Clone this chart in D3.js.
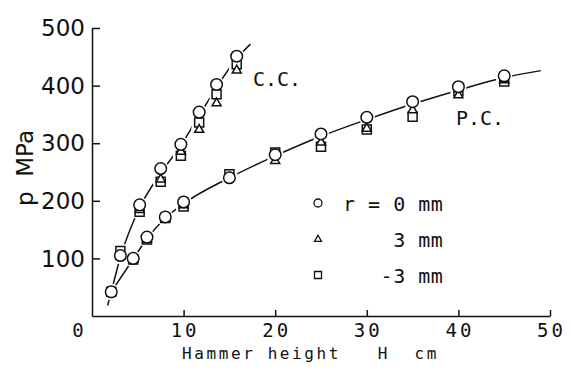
<!DOCTYPE html>
<html>
<head>
<meta charset="utf-8">
<script src="https://cdn.jsdelivr.net/npm/d3@7"></script>
<style>
  html, body { margin: 0; padding: 0; background: #fff; }
  svg { display: block; }
  text { fill: #111; }
</style>
</head>
<body>
<div id="chart"></div>
<script>
// ---------- data ----------
const xTicks = [10, 20, 30, 40, 50];
const yTicks = [100, 200, 300, 400, 500];

// C.C. (steep curve)
const ccH        = [2.1, 3.1, 5.2, 7.5, 9.7, 11.7, 13.6, 15.8];
const ccCircle   = [42, 105, 193, 256, 298, 354, 402, 451];
const ccTriangle = [42, 104, 185, 238, 286, 324, 370, 427];
const ccSquare   = [42, 113, 181, 233, 278, 336, 385, 437];
const ccLineH    = [1.7, 2.1, 3.1, 5.2, 7.5, 9.7, 11.7, 13.6, 15.8, 17.3];
const ccLineP    = [18, 42, 102, 188, 248, 296, 348, 397, 447, 472];

// P.C. (flatter curve)
const pcH        = [4.5, 6, 8, 10, 15, 20, 25, 30, 35, 40, 45];
const pcCircle   = [100, 137, 172, 198, 240, 280, 316, 345, 372, 398, 417];
const pcTriangle = [99, 133, 170, 193, 241, 270, 302, 326, 358, 384, 410];
const pcSquare   = [98, 133, 170, 190, 246, 284, 294, 324, 346, 390, 407];
const pcLineH    = [2.1, 4.5, 6, 8, 10, 15, 20, 25, 30, 35, 40, 45, 49];
const pcLineP    = [42, 99, 134, 170, 195, 240, 278, 312, 341, 368, 392, 414, 426];

const legendLabels = ["r = 0 mm", "    3 mm", "   -3 mm"];
const legendShapes = ["circle", "triangle", "square"];

// ---------- drawing ----------
const W = 583, H = 374;
const svg = d3.select("#chart").append("svg").attr("width", W).attr("height", H);

const x = d3.scaleLinear().domain([0, 50]).range([92, 550]);
const y = d3.scaleLinear().domain([0, 500]).range([316, 28]);

const mono = "'DejaVu Sans Mono', 'Liberation Mono', monospace";
const sans = "'DejaVu Sans', 'Liberation Sans', sans-serif";

// axes
const xAxis = d3.axisBottom(x).tickValues(xTicks).tickSizeInner(-6).tickSizeOuter(0).tickFormat("");
const yAxis = d3.axisLeft(y).tickValues(yTicks).tickSizeInner(-8).tickSizeOuter(0).tickFormat("");
const gx = svg.append("g").attr("transform", `translate(0,${y(0)})`).call(xAxis);
const gy = svg.append("g").attr("transform", `translate(${x(0)},0)`).call(yAxis);
[gx, gy].forEach(g => {
  g.selectAll("path, line").attr("stroke", "#111").attr("stroke-width", 1.5);
});

// tick labels
svg.append("g").selectAll("text").data(xTicks).join("text")
  .attr("x", d => x(d) + 1.5).attr("y", 337)
  .attr("text-anchor", "middle")
  .style("font-family", mono).style("font-size", "19px").style("letter-spacing", "3px")
  .text(d => d);
svg.append("text").attr("x", 78).attr("y", 337).attr("text-anchor", "middle")
  .style("font-family", mono).style("font-size", "19px").text("0");

svg.append("g").selectAll("text").data(yTicks).join("text")
  .attr("x", 85).attr("y", d => y(d)).attr("dy", "0.36em")
  .attr("text-anchor", "end")
  .style("font-family", sans).style("font-size", "23px")
  .text(d => d);

// axis titles
svg.append("text").attr("x", 182).attr("y", 359)
  .attr("xml:space", "preserve").style("white-space", "pre")
  .style("font-family", mono).style("font-size", "16px").style("letter-spacing", "2.6px")
  .text("Hammer height   H  cm");

svg.append("text")
  .attr("transform", `translate(33,168) rotate(-90)`)
  .attr("text-anchor", "middle")
  .attr("xml:space", "preserve").style("white-space", "pre")
  .style("font-family", sans).style("font-size", "23px")
  .text("p  MPa");

// curve labels
svg.append("text").attr("x", 253).attr("y", 86)
  .style("font-family", mono).style("font-size", "20px").text("C.C.");
svg.append("text").attr("x", 456).attr("y", 125)
  .style("font-family", mono).style("font-size", "20px").text("P.C.");

// lines
const line = d3.line().x(d => x(d[0])).y(d => y(d[1])).curve(d3.curveMonotoneX);
svg.append("path").datum(d3.zip(ccLineH, ccLineP)).attr("d", line)
  .attr("fill", "none").attr("stroke", "#111").attr("stroke-width", 1.5);
svg.append("path").datum(d3.zip(pcLineH, pcLineP)).attr("d", line)
  .attr("fill", "none").attr("stroke", "#111").attr("stroke-width", 1.5);

// markers
function shapePath(shape, s) {
  if (shape === "square") return `M${-s/2},${-s/2}h${s}v${s}h${-s}Z`;
  if (shape === "triangle") { const h = s * 0.87; return `M0,${-h*0.62}L${s/2},${h*0.38}L${-s/2},${h*0.38}Z`; }
  return null;
}
const allH = ccH.concat(pcH);
const series = [
  { shape: "square",   vals: ccSquare.concat(pcSquare) },
  { shape: "triangle", vals: ccTriangle.concat(pcTriangle) },
  { shape: "circle",   vals: ccCircle.concat(pcCircle) }
];
// white halos to break lines around markers
const halo = svg.append("g");
series.forEach(s => {
  halo.selectAll(null).data(d3.zip(allH, s.vals)).join("circle")
    .attr("cx", d => x(d[0])).attr("cy", d => y(d[1])).attr("r", 8).attr("fill", "#fff");
});
const marks = svg.append("g");
series.forEach(s => {
  const pts = d3.zip(allH, s.vals);
  if (s.shape === "circle") {
    marks.selectAll(null).data(pts).join("circle")
      .attr("cx", d => x(d[0])).attr("cy", d => y(d[1])).attr("r", 5.8)
      .attr("fill", "#fff").attr("stroke", "#111").attr("stroke-width", 1.5);
  } else {
    marks.selectAll(null).data(pts).join("path")
      .attr("transform", d => `translate(${x(d[0])},${y(d[1])})`)
      .attr("d", shapePath(s.shape, 9))
      .attr("fill", "#fff").attr("stroke", "#111").attr("stroke-width", 1.5);
  }
});

// legend
const leg = svg.append("g");
legendLabels.forEach((lab, i) => {
  const cy = 203 + i * 36;
  if (legendShapes[i] === "circle") {
    leg.append("circle").attr("cx", 318).attr("cy", cy).attr("r", 4)
      .attr("fill", "none").attr("stroke", "#111").attr("stroke-width", 1.3);
  } else {
    leg.append("path").attr("transform", `translate(318,${cy})`)
      .attr("d", shapePath(legendShapes[i], 7))
      .attr("fill", "none").attr("stroke", "#111").attr("stroke-width", 1.3);
  }
  leg.append("text").attr("x", 343).attr("y", cy + 8)
    .attr("xml:space", "preserve").style("white-space", "pre")
    .style("font-family", mono).style("font-size", "20px").style("letter-spacing", "0.5px")
    .text(lab);
});
</script>
</body>
</html>
